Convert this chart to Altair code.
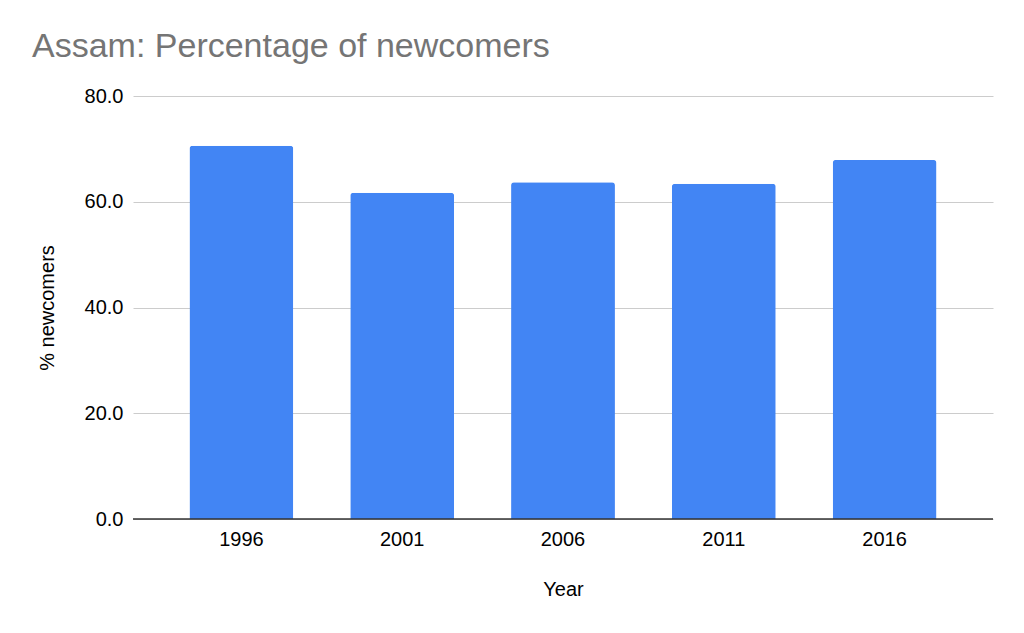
import altair as alt
import pandas as pd

years = ["1996", "2001", "2006", "2011", "2016"]
newcomers = [70.6, 61.7, 63.7, 63.4, 67.9]

df = pd.DataFrame({"Year": years, "pct": newcomers})

FONT = "Liberation Sans"

bars = alt.Chart(df).mark_bar(
    color="#4285F4", cornerRadiusTopLeft=3, cornerRadiusTopRight=3
).encode(
    x=alt.X("Year:N", title="Year", sort=years,
            scale=alt.Scale(paddingInner=0.354, paddingOuter=0.351),
            axis=alt.Axis(labelAngle=0, ticks=False, domain=False, labelPadding=10,
                          titlePadding=30)),
    y=alt.Y("pct:Q", title="% newcomers",
            scale=alt.Scale(domain=[0, 80], nice=False),
            axis=alt.Axis(values=[0, 20, 40, 60, 80], format=".1f", ticks=False,
                          domain=False, labelPadding=10, titlePadding=27,
                          gridColor="#cccccc", gridWidth=1)),
)

zero = alt.Chart(pd.DataFrame({"z": [0]})).mark_rule(color="#333333", strokeWidth=1.5).encode(
    y="z:Q"
)

chart = alt.layer(bars, zero).properties(
    width=860, height=423,
    autosize=alt.AutoSizeParams(type="none"),
    padding={"left": 125, "top": 88, "right": 23, "bottom": 106},
    title=alt.TitleParams("Assam: Percentage of newcomers", anchor="start", frame="group",
                          dx=-101, fontSize=34, font=FONT, fontWeight="normal",
                          color="#757575", offset=22),
).configure_view(stroke=None).configure_axis(
    labelFont=FONT, titleFont=FONT, labelFontSize=20, titleFontSize=20,
    labelColor="#000000", titleColor="#000000", titleFontWeight="normal",
)

chart.save("out.html", embed_options={"renderer": "svg", "actions": False})
